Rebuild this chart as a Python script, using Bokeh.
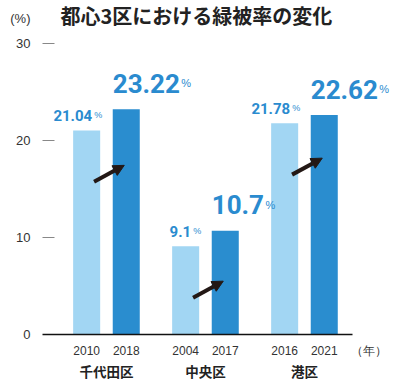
from bokeh.plotting import figure
from bokeh.models import (ColumnDataSource, Range1d, FixedTicker, LinearAxis, Label,
                          Arrow, NormalHead)
from bokeh.embed import file_html
from bokeh.resources import INLINE
from bokeh.core.properties import value

# ---- data ----
wards = ["千代田区", "中央区", "港区"]
years_before = ["2010", "2004", "2016"]
years_after = ["2018", "2017", "2021"]
rate_before = [21.04, 9.1, 21.78]
rate_after = [23.22, 10.7, 22.62]
label_before = ["21.04", "9.1", "21.78"]
label_after = ["23.22", "10.7", "22.62"]
y_ticks = [0, 10, 20, 30]
title_text = "都心3区における緑被率の変化"
y_unit = "(%)"
x_unit = "（年）"

LIGHT = "#a2d6f3"
DARK = "#2a8dcf"
TXT_BLUE = "#2a8bcf"
NUM_FONT = "Roboto"
JP_FONT = "Noto Sans CJK JP"
ARROW_C = "#231815"

off = 0.2
bw = 0.273
g = list(range(len(wards)))
x_before = [i - off for i in g]
x_after = [i + off for i in g]

X0, X1 = -0.646, 2.96
BASE_END = 2.485
Y0, Y1 = 0, 34.43
Y_UNIT_POS = 32.53
X_UNIT_POS = 2.652

p = figure(width=399, height=389, x_range=Range1d(X0, X1), y_range=Range1d(Y0, Y1),
           output_backend="svg", toolbar_location=None,
           min_border_left=42, min_border_right=0, min_border_top=0, min_border_bottom=55)
p.outline_line_color = None
p.xgrid.visible = False
p.ygrid.visible = False
p.background_fill_color = "white"
p.border_fill_color = "white"

src_b = ColumnDataSource(dict(x=x_before, top=rate_before,
                              right=[x + bw / 2 for x in x_before], num=label_before))
src_a = ColumnDataSource(dict(x=x_after, top=rate_after,
                              left=[x - bw / 2 for x in x_after], num=label_after))

p.vbar(x="x", top="top", width=bw, bottom=0, source=src_b, fill_color=LIGHT, line_color=None)
p.vbar(x="x", top="top", width=bw, bottom=0, source=src_a, fill_color=DARK, line_color=None)

# small labels (before)
p.text(x="right", y="top", text="num", source=src_b, text_align="right",
       text_baseline="alphabetic", x_offset=-8, y_offset=-15,
       text_font=value(NUM_FONT), text_font_style="bold", text_font_size="15px",
       text_color=TXT_BLUE)
p.text(x="right", y="top", text=value("%"), source=src_b, text_align="left",
       text_baseline="alphabetic", x_offset=-6, y_offset=-15,
       text_font=value("Liberation Sans"), text_font_size="9px", text_color=TXT_BLUE)

# large labels (after)
BIG = 26
def est_width(s, size):
    return sum(0.5615 * size if ch.isdigit() else 0.2715 * size for ch in s)

src_a.data["pct_off"] = [est_width(s, BIG) + 3 for s in label_after]
p.text(x="left", y="top", text="num", source=src_a, text_align="left",
       text_baseline="alphabetic", x_offset=0, y_offset=-26,
       text_font=value(NUM_FONT), text_font_style="bold", text_font_size=f"{BIG}px",
       text_color=TXT_BLUE)
p.text(x="left", y="top", text=value("%"), source=src_a, text_align="left",
       text_baseline="alphabetic", x_offset="pct_off", y_offset=-26,
       text_font=value("Liberation Sans"), text_font_size="11px", text_color=TXT_BLUE)

# arrows
arr = ColumnDataSource(dict(xs=[x + 0.075 for x in x_before],
                            ys=[v - 5.3 for v in rate_before],
                            xe=[x - 0.02 for x in x_after],
                            ye=[v - 5.3 + 1.7 for v in rate_before]))
p.add_layout(Arrow(x_start="xs", y_start="ys", x_end="xe", y_end="ye", source=arr,
                   line_width=4, line_color=ARROW_C,
                   end=NormalHead(size=11, fill_color=ARROW_C, line_color=ARROW_C)))

# y axis: inner one draws only the tick dashes
yt = p.yaxis[0]
yt.ticker = FixedTicker(ticks=y_ticks[1:])
yt.major_label_overrides = {t: "" for t in y_ticks[1:]}
yt.axis_line_color = None
yt.major_tick_in = 12
yt.major_tick_out = 0
yt.minor_tick_in = 0
yt.minor_tick_out = 0
yt.major_tick_line_color = "#888888"
yt.minor_tick_line_color = None
yt.major_label_standoff = 0

# y axis: outer one draws only the labels (incl. unit)
yl = LinearAxis(ticker=FixedTicker(ticks=y_ticks + [Y_UNIT_POS]),
                major_label_overrides={Y_UNIT_POS: y_unit})
yl.axis_line_color = None
yl.major_tick_line_color = None
yl.minor_tick_line_color = None
yl.major_tick_in = 0
yl.major_tick_out = 0
yl.minor_tick_in = 0
yl.minor_tick_out = 0
yl.major_label_standoff = 12
yl.major_label_text_font = "Liberation Sans"
yl.major_label_text_font_size = "13px"
yl.major_label_text_color = "#333333"
p.add_layout(yl, "left")

# x axis: baseline only
xb = p.xaxis[0]
xb.ticker = FixedTicker(ticks=[])
xb.bounds = (X0, BASE_END)
xb.axis_line_color = "#111111"
xb.axis_line_width = 1.5
xb.major_tick_in = 0
xb.major_tick_out = 0
xb.minor_tick_in = 0
xb.minor_tick_out = 0
xb.major_tick_line_color = None
xb.minor_tick_line_color = None
xb.major_label_standoff = 0

# x axis: years (+ unit)
tick_pos = x_before + x_after + [X_UNIT_POS]
tick_lab = years_before + years_after + [x_unit]
xa = LinearAxis(ticker=FixedTicker(ticks=tick_pos),
                major_label_overrides={t: l for t, l in zip(tick_pos, tick_lab)})
xa.axis_line_color = None
xa.major_tick_line_color = None
xa.minor_tick_line_color = None
xa.major_tick_in = 0
xa.major_tick_out = 0
xa.minor_tick_in = 0
xa.minor_tick_out = 0
xa.major_label_standoff = 9
xa.major_label_text_font = "Liberation Sans"
xa.major_label_text_font_size = "12px"
xa.major_label_text_color = "#333333"
p.add_layout(xa, "below")

# x axis: wards
wa = LinearAxis(ticker=FixedTicker(ticks=g),
                major_label_overrides={i: w for i, w in zip(g, wards)})
wa.axis_line_color = None
wa.major_tick_line_color = None
wa.minor_tick_line_color = None
wa.major_tick_in = 0
wa.major_tick_out = 0
wa.minor_tick_in = 0
wa.minor_tick_out = 0
wa.major_label_standoff = 0
wa.major_label_text_font = JP_FONT
wa.major_label_text_font_style = "bold"
wa.major_label_text_font_size = "13.5px"
wa.major_label_text_color = "#222222"
p.add_layout(wa, "below")

# title
p.add_layout(Label(x=X0, y=32.84, x_offset=18, text=title_text, text_align="left",
                   text_baseline="middle", text_font=JP_FONT, text_font_style="bold",
                   text_font_size="20px", text_color="#222222"))

open("out.html", "w").write(file_html(p, INLINE))
